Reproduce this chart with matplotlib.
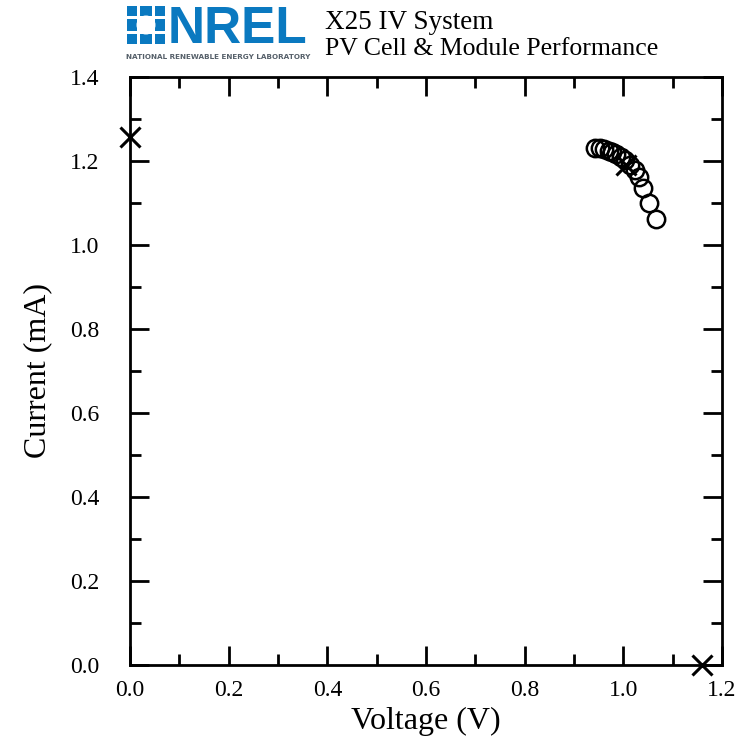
"""IV curve of an X25 measurement, drawn NREL-report style."""

import matplotlib

matplotlib.use("Agg")
import matplotlib.pyplot as plt
from matplotlib.patches import Rectangle, Circle
from matplotlib.ticker import MultipleLocator

# measured IV points (V, mA)
voltage = [0.943, 0.952, 0.961, 0.970, 0.977, 0.986, 0.995, 1.003,
           1.013, 1.023, 1.031, 1.040, 1.053, 1.067]
current = [1.232, 1.230, 1.228, 1.224, 1.221, 1.217, 1.210, 1.202,
           1.190, 1.179, 1.163, 1.135, 1.101, 1.061]

# Isc, Pmax and Voc markers
key_v = [0.0, 1.006, 1.159]
key_i = [1.257, 1.190, 0.0]

SERIF = ["Liberation Serif", "DejaVu Serif"]
NREL_BLUE = "#0A79C0"

W, H = 736, 748
fig = plt.figure(figsize=(W / 100, H / 100), dpi=100)

ax = fig.add_axes([130 / W, 1 - 665 / H, (722 - 130) / W, (665 - 77) / H])
ax.plot(voltage, current, linestyle="none", marker="o", markersize=12.5,
        markerfacecolor="none", markeredgecolor="black", markeredgewidth=1.8,
        clip_on=False)
ax.plot(key_v, key_i, linestyle="none", marker="x", markersize=15,
        color="black", markeredgewidth=2.2, clip_on=False, zorder=5)

ax.set_xlim(0, 1.2)
ax.set_ylim(0, 1.4)
ax.xaxis.set_major_locator(MultipleLocator(0.2))
ax.xaxis.set_minor_locator(MultipleLocator(0.1))
ax.yaxis.set_major_locator(MultipleLocator(0.2))
ax.yaxis.set_minor_locator(MultipleLocator(0.1))
ax.tick_params(which="both", direction="in", top=True, right=True,
               width=2, colors="black")
ax.tick_params(which="major", length=14, labelsize=17)
ax.tick_params(which="minor", length=8)
ax.tick_params(axis="x", which="major", pad=11)
ax.tick_params(axis="y", which="major", pad=22)
ax.xaxis.set_major_formatter(plt.FuncFormatter(lambda v, _: f"{v:.1f}"))
ax.yaxis.set_major_formatter(plt.FuncFormatter(lambda v, _: f"{v:.1f}"))
for lbl in ax.get_xticklabels() + ax.get_yticklabels():
    lbl.set_family(SERIF)
for sp in ax.spines.values():
    sp.set_linewidth(2)

ax.set_xlabel("Voltage (V)", family=SERIF, fontsize=23)
ax.set_ylabel("Current (mA)", family=SERIF, fontsize=23)
ax.xaxis.set_label_coords(0.5, (665 - 707) / 588)
ax.yaxis.set_label_coords((52 - 130) / 592, 0.5)

# header: logo + titles, in pixel coordinates
hdr = fig.add_axes([0, 0, 1, 1], facecolor="none")
hdr.set_xlim(0, W)
hdr.set_ylim(H, 0)
hdr.axis("off")

# sunburst icon
cx, cy, s = 146, 25, 19
hdr.add_patch(Rectangle((cx - s, cy - s), 2 * s, 2 * s, color=NREL_BLUE, lw=0))
for d in (-s * 0.38, s * 0.38):
    hdr.add_patch(Rectangle((cx + d - 1.5, cy - s - 1), 3, 2 * s + 2, color="white", lw=0))
    hdr.add_patch(Rectangle((cx - s - 1, cy + d - 1.5), 2 * s + 2, 3, color="white", lw=0))
hdr.add_patch(Circle((cx, cy), s * 0.5, color="white", lw=0))

hdr.text(168, 43, "NREL", color=NREL_BLUE, fontsize=37, fontweight="bold",
         family="Liberation Sans", va="baseline", ha="left")
hdr.text(126, 57, "NATIONAL RENEWABLE ENERGY LABORATORY", color="#56606a",
         fontsize=5.2, fontweight="bold", family="DejaVu Sans",
         va="center", ha="left")

hdr.text(325, 29, "X25 IV System", family=SERIF, fontsize=19.5, va="baseline")
hdr.text(325, 55, "PV Cell & Module Performance", family=SERIF, fontsize=18.5,
         va="baseline")

fig.savefig("out.png", dpi=100)
